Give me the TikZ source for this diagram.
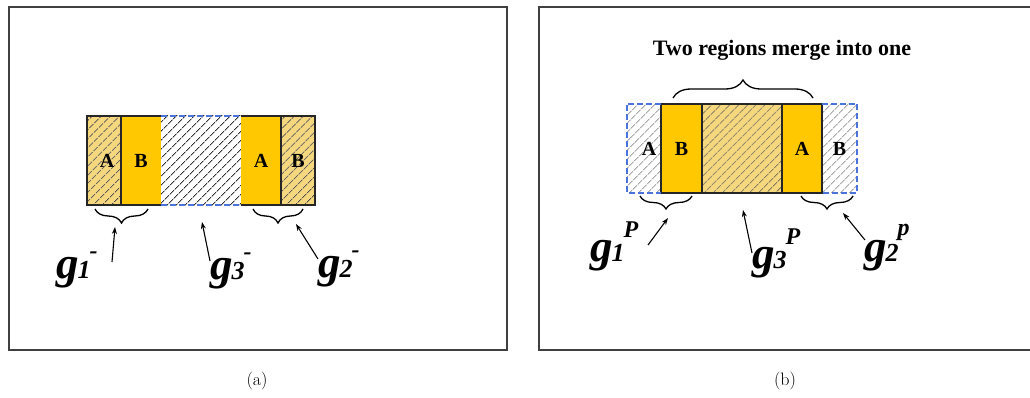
\documentclass[tikz,border=0pt]{standalone}
\usepackage{fontspec}
\newfontfamily\timesfont{Liberation Serif}
\usetikzlibrary{arrows.meta,patterns.meta,decorations.pathreplacing}

\definecolor{gold}{RGB}{255,200,0}
\definecolor{paleyellow}{RGB}{245,215,125}
\definecolor{dashblue}{RGB}{75,115,220}

% g label: g with subscript and raised mark
\newcommand{\glab}[3]{\fontsize{45}{45}\selectfont g\kern-1pt\raisebox{0pt}{\fontsize{26}{26}\selectfont #1}\kern-1pt\raisebox{#3}{\fontsize{24}{24}\selectfont #2}}

\begin{document}
\begin{tikzpicture}[
                x=1pt, y=-1pt,
                col/.style={inner sep=0pt, minimum height=89pt, draw=none,
                        font=\timesfont\bfseries\fontsize{20}{20}\selectfont},
                solidcol/.style={col, fill=gold},
                hatchy/.style={col, fill=paleyellow,
                        postaction={pattern={Lines[angle=45,distance=6.5pt,line width=.8pt]}, pattern color=black!75}},
                hatchw/.style={col, fill=white,
                        postaction={pattern={Lines[angle=45,distance=6.5pt,line width=.8pt]}, pattern color=black!80}},
                hatchg/.style={col, fill=white,
                        postaction={pattern={Lines[angle=45,distance=6.5pt,line width=.8pt]}, pattern color=black!50}},
                edge/.style={line width=1.5pt, black!85},
                blueline/.style={line width=1.5pt, dashblue, dash pattern=on 6pt off 3pt},
                frame/.style={line width=2pt, black!75},
                brace/.style={line width=1.3pt, decorate, decoration={brace, amplitude=#1}},
                pointer/.style={line width=1.1pt, -{Stealth[length=7pt,width=5pt]}},
                glabel/.style={inner sep=0pt, anchor=base west, font=\timesfont\bfseries\itshape},
                heading/.style={inner sep=0pt, font=\timesfont\bfseries\fontsize{22}{22}\selectfont},
                caption/.style={inner sep=0pt, font=\fontsize{18}{18}\selectfont}
            ]
            \useasboundingbox (0,0) rectangle (1030,398);

            % frames
            \draw[frame] (8.5,7) rectangle (506.5,350);
            \draw[frame] (539,7) rectangle (1036,350);

            % (a) before merging
            \node[hatchy, minimum width=34pt] (la1) at (104,160.5) {\hspace*{6pt}A};
            \node[solidcol, minimum width=40pt] (la2) at (141,160.5) {B};
            \node[hatchw, minimum width=80pt] (la3) at (201,160.5) {};
            \node[solidcol, minimum width=40pt] (la4) at (261,160.5) {A};
            \node[hatchy, minimum width=34pt] (la5) at (298,160.5) {B};

            \draw[edge] (la2.north east) -- (la1.north west) -- (la1.south west) -- (la2.south east);
            \draw[edge] (la1.north east) -- (la1.south east);
            \draw[blueline] (la3.north west) -- (la3.north east);
            \draw[blueline] (la3.south west) -- (la3.south east);
            \draw[edge] (la4.north west) -- (la5.north east) -- (la5.south east) -- (la4.south west);
            \draw[edge] (la5.north west) -- (la5.south west);

            \draw[brace=14pt] (148,209) -- (95,209);
            \draw[brace=14pt] (303,209) -- (253,209);

            \node[glabel] (g1m) at (56,278) {\glab{1}{-}{20pt}};
            \node[glabel] (g3m) at (210,279) {\glab{3}{-}{20pt}};
            \node[glabel] (g2m) at (318,277) {\glab{2}{-}{20pt}};

            \coordinate (g1mtail) at (112,262);
            \coordinate (g1mtip) at (115,227);
            \coordinate (g3mtail) at (210,261);
            \coordinate (g3mtip) at (202,222);
            \coordinate (g2mtail) at (318,259);
            \coordinate (g2mtip) at (296,224);
            \draw[pointer] (g1mtail) -- (g1mtip);
            \draw[pointer] (g3mtail) -- (g3mtip);
            \draw[pointer] (g2mtail) -- (g2mtip);

            % (b) after merging
            \node[hatchg, minimum width=34pt] (rb1) at (644,148.5) {\hspace*{10pt}A};
            \node[solidcol, minimum width=41pt] (rb2) at (681.5,148.5) {B};
            \node[hatchy, minimum width=80pt] (rb3) at (742,148.5) {};
            \node[solidcol, minimum width=40pt] (rb4) at (802,148.5) {A};
            \node[hatchg, minimum width=35pt] (rb5) at (839.5,148.5) {B};

            \draw[edge] (rb2.north west) rectangle (rb4.south east);
            \draw[edge] (rb3.north west) -- (rb3.south west);
            \draw[edge] (rb3.north east) -- (rb3.south east);
            \draw[blueline] (rb1.north east) -- (rb1.north west) -- (rb1.south west) -- (rb1.south east);
            \draw[blueline] (rb5.north west) -- (rb5.north east) -- (rb5.south east) -- (rb5.south west);

            \node[heading] (merge) at (782,50) {Two regions merge into one};
            \draw[brace=18pt] (673,98) -- (813,98);
            \draw[brace=13pt] (692,196) -- (640,196);
            \draw[brace=13pt] (853,196) -- (801,196);

            \node[glabel] (g1p) at (590,261) {\glab{1}{P}{24pt}};
            \node[glabel] (g3p) at (752,268) {\glab{3}{P}{24pt}};
            \node[glabel] (g2p) at (864,261) {\glab{2}{p}{26pt}};

            \coordinate (g1ptail) at (648,245);
            \coordinate (g1ptip) at (668,218);
            \coordinate (g3ptail) at (752,253);
            \coordinate (g3ptip) at (743,210);
            \coordinate (g2ptail) at (865,240);
            \coordinate (g2ptip) at (843,213);
            \draw[pointer] (g1ptail) -- (g1ptip);
            \draw[pointer] (g3ptail) -- (g3ptip);
            \draw[pointer] (g2ptail) -- (g2ptip);

            % captions
            \node[caption] (capa) at (257,381) {(a)};
            \node[caption] (capb) at (785,381) {(b)};

        \end{tikzpicture}
\end{document}
